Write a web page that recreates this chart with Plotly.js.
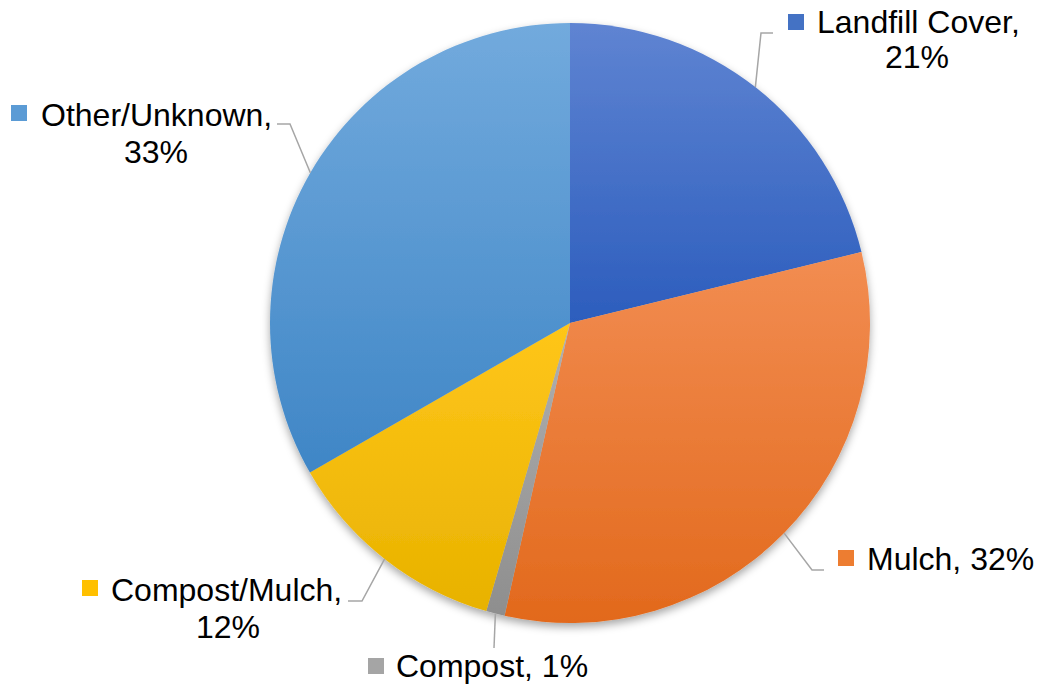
<!DOCTYPE html>
<html>
<head>
<meta charset="utf-8">
<script src="https://cdn.plot.ly/plotly-3.0.1.min.js"></script>
<style>
html,body{margin:0;padding:0;background:#fff;}
#chart{width:1039px;height:686px;}
</style>
</head>
<body>
<div id="chart"></div>
<script>
// ---- data ----
var categories = ['Landfill Cover', 'Mulch', 'Compost', 'Compost/Mulch', 'Other/Unknown'];
var shareValues = [21.2, 32.3, 1.0, 12.2, 33.3];
var percentLabels = ['21%', '32%', '1%', '12%', '33%'];

// ---- style ----
var W = 1039, H = 686;
var colorsTop = ['#5f84d2', '#f28d52', '#b0b0b0', '#ffc61a', '#72aadd'];
var colorsBottom = ['#2c5dbd', '#e2691c', '#8e8e8e', '#e8b200', '#3f86c6'];
var colorsMid = ['#4472c4', '#ed7d31', '#a5a5a5', '#ffc000', '#5b9bd5'];
var pieCx = 570, pieCy = 323, pieR = 300;
var fontSize = 32;
var fontFam = '"Liberation Sans", Arial, sans-serif';
// label layout in pixels: first line (left x, centre y), optional second line (centre x, centre y),
// key square (x0,y0,size), leader line points after the slice edge
var labelLayout = [
  {x: 818, y: 22, line2: [917, 57], key: [788, 14, 16], leader: [[761, 33], [773, 33]], split: true},
  {x: 868, y: 559, line2: null, key: [838, 550, 16], leader: [[812, 570], [824, 570]], split: false},
  {x: 397, y: 666, line2: null, key: [368, 658, 16], leader: [[494, 648]], split: false},
  {x: 112, y: 590, line2: [228, 627], key: [82, 580, 16], leader: [[362, 601], [348, 601]], split: true},
  {x: 42, y: 115, line2: [156, 152], key: [11, 105, 16], leader: [[290, 124], [277, 124]], split: true}
];

function px(x) { return x / W; }
function py(y) { return 1 - y / H; }

var total = shareValues.reduce(function (a, b) { return a + b; }, 0);
var annotations = [], shapes = [];
var cum = 0;
for (var i = 0; i < categories.length; i++) {
  var mid = (cum + shareValues[i] / 2) / total * 2 * Math.PI;
  cum += shareValues[i];
  var ex = pieCx + pieR * Math.sin(mid);
  var ey = pieCy - pieR * Math.cos(mid);
  var L = labelLayout[i];
  var path = 'M' + px(ex) + ',' + py(ey);
  L.leader.forEach(function (p) { path += ' L' + px(p[0]) + ',' + py(p[1]); });
  shapes.push({type: 'path', xref: 'paper', yref: 'paper', path: path,
    line: {color: '#a6a6a6', width: 1.5}});
  shapes.push({type: 'rect', xref: 'paper', yref: 'paper',
    x0: px(L.key[0]), x1: px(L.key[0] + L.key[2]), y0: py(L.key[1] + L.key[2]), y1: py(L.key[1]),
    fillcolor: colorsMid[i], line: {width: 0}});
  var first = L.split ? categories[i] + ',' : categories[i] + ', ' + percentLabels[i];
  annotations.push({xref: 'paper', yref: 'paper', x: px(L.x - 3), y: py(L.y), xanchor: 'left', yanchor: 'middle',
    text: first, showarrow: false, font: {family: fontFam, size: fontSize, color: '#000'}});
  if (L.split) {
    annotations.push({xref: 'paper', yref: 'paper', x: px(L.line2[0]), y: py(L.line2[1]), xanchor: 'center', yanchor: 'middle',
      text: percentLabels[i], showarrow: false, font: {family: fontFam, size: fontSize, color: '#000'}});
  }
}

var trace = {
  type: 'pie',
  labels: categories,
  values: shareValues,
  sort: false,
  direction: 'clockwise',
  rotation: 0,
  textinfo: 'none',
  hoverinfo: 'none',
  marker: {colors: colorsMid, line: {width: 0}},
  domain: {x: [px(pieCx - pieR), px(pieCx + pieR)], y: [py(pieCy + pieR), py(pieCy - pieR)]},
  showlegend: false
};

var layout = {
  width: W, height: H,
  margin: {l: 0, r: 0, t: 0, b: 0},
  paper_bgcolor: '#ffffff',
  plot_bgcolor: '#ffffff',
  showlegend: false,
  annotations: annotations,
  shapes: shapes
};

Plotly.newPlot('chart', [trace], layout, {staticPlot: true, displayModeBar: false}).then(function (gd) {
  var svgNS = 'http://www.w3.org/2000/svg';
  var svg = gd.querySelector('svg.main-svg');
  var defs = svg.querySelector('defs') || svg.insertBefore(document.createElementNS(svgNS, 'defs'), svg.firstChild);
  // shadow filter
  var filt = document.createElementNS(svgNS, 'filter');
  filt.setAttribute('id', 'pieShadow');
  filt.setAttribute('x', '-10%'); filt.setAttribute('y', '-10%');
  filt.setAttribute('width', '120%'); filt.setAttribute('height', '120%');
  var ds = document.createElementNS(svgNS, 'feDropShadow');
  ds.setAttribute('dx', '0'); ds.setAttribute('dy', '4');
  ds.setAttribute('stdDeviation', '4'); ds.setAttribute('flood-color', '#000');
  ds.setAttribute('flood-opacity', '0.35');
  filt.appendChild(ds);
  defs.appendChild(filt);
  for (var k = 0; k < categories.length; k++) {
    var g = document.createElementNS(svgNS, 'linearGradient');
    g.setAttribute('id', 'sliceGrad' + k);
    g.setAttribute('x1', '0'); g.setAttribute('y1', '0');
    g.setAttribute('x2', '0'); g.setAttribute('y2', '1');
    var s1 = document.createElementNS(svgNS, 'stop');
    s1.setAttribute('offset', '0'); s1.setAttribute('stop-color', colorsTop[k]);
    var s2 = document.createElementNS(svgNS, 'stop');
    s2.setAttribute('offset', '1'); s2.setAttribute('stop-color', colorsBottom[k]);
    g.appendChild(s1); g.appendChild(s2);
    defs.appendChild(g);
  }
  var slices = gd.querySelectorAll('g.slice path.surface');
  slices.forEach(function (p, k) { p.style.fill = 'url(#sliceGrad' + k + ')'; });
  var pieGroup = gd.querySelector('g.pielayer');
  if (pieGroup) pieGroup.setAttribute('filter', 'url(#pieShadow)');
});
</script>
</body>
</html>
